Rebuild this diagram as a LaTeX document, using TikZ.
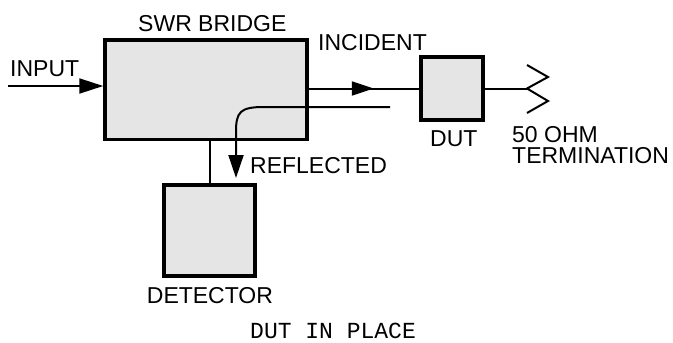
\documentclass[tikz,border=0pt]{standalone}
\usepackage{fontspec}
\setmainfont{Liberation Sans}
\newfontfamily\monofont{Liberation Mono}
\usetikzlibrary{arrows.meta,decorations.markings}
\begin{document}
\begin{tikzpicture}[x=1pt,y=-1pt,
  blockbox/.style={draw=black,line width=3.5pt,fill=black!10,inner sep=0pt},
  wire/.style={line width=2pt},
  lbl/.style={inner sep=0pt,anchor=base west,font=\fontsize{23}{26}\selectfont},
  bigtip/.style={-{Triangle[length=24pt,width=15pt]}}]
\useasboundingbox (0,0) rectangle (673,343);
% blocks
\node[blockbox,minimum width=202pt,minimum height=99.5pt] (swr) at (206,89.75) {};
\node[blockbox,minimum width=62pt,minimum height=63pt] (dut) at (452,88.5) {};
\node[blockbox,minimum width=91pt,minimum height=91pt] (det) at (209.5,230.5) {};
% labels
\node[lbl] (swrl) at (138,31) {SWR BRIDGE};
\node[lbl] (inl) at (10,76) {INPUT};
\node[lbl] (incl) at (318,50) {INCIDENT};
\node[lbl] (dutl) at (430,146.7) {DUT};
\node[lbl] (refl) at (250,173) {REFLECTED};
\node[lbl] (detl) at (146.7,303) {DETECTOR};
\node[lbl] (ohml) at (512,142) {50 OHM};
\node[lbl] (terml) at (512,163) {TERMINATION};
\node[lbl,font=\fontsize{23}{26}\monofont] (cap) at (250,338) {DUT IN PLACE};
% coordinates
\coordinate (instart) at (8,86);
\coordinate (rstart) at (390,107);
\coordinate (rend) at (236,178);
\coordinate (zz) at (527,88.5);
% input
\draw[wire,bigtip] (instart) -- (instart -| swr.west);
% incident
\draw[wire,postaction={decorate},decoration={markings,
  mark=at position 65pt with {\arrow{Triangle[length=22pt,width=14pt]}}}]
  (swr.east |- dut.west) -- (dut.west);
% reflected
\draw[wire,-{Triangle[length=23pt,width=15pt]}]
  (rstart) -- (264,107) .. controls (240,107) and (236,112) .. (236,132) -- (rend);
% detector link
\draw[wire] (swr.south -| 209.5,0) -- (det.north);
% termination
\draw[wire] (dut.east) -- (zz);
\draw[wire,line join=miter] (527,65) -- (548,77) -- (zz) -- (548,101) -- (527,113);
\end{tikzpicture}
\end{document}
